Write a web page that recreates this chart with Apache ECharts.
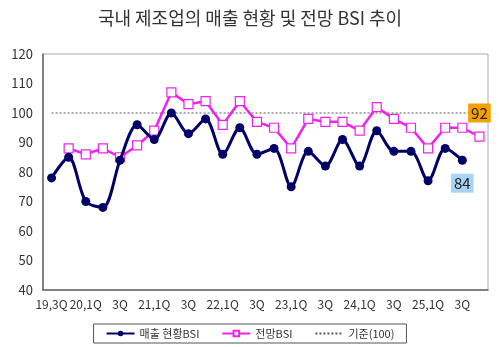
<!DOCTYPE html>
<html><head><meta charset="utf-8">
<script src="https://cdn.jsdelivr.net/npm/echarts@6/dist/echarts.min.js"></script>
<style>html,body{margin:0;padding:0;background:#fff}#c{width:500px;height:347px}</style>
</head><body><div id="c"></div>
<script>
const categories = ["19,3Q","4Q","20,1Q","2Q","3Q","4Q","21,1Q","2Q","3Q","4Q","22,1Q","2Q","3Q","4Q","23,1Q","2Q","3Q","4Q","24,1Q","2Q","3Q","4Q","25,1Q","2Q","3Q","4Q"];
const salesBSI = [78,85,70,68,84,96,91,100,93,98,86,95,86,88,75,87,82,91,82,94,87,87,77,88,84,null];
const outlookBSI = [null,88,86,88,85,89,94,107,103,104,96,104,97,95,88,98,97,97,94,102,98,95,88,95,95,92];
const baseline = categories.map(() => 100);
const names = ["매출 현황BSI","전망BSI","기준(100)"];
const yTicks = {min:40, max:120, interval:10};

const font = '"Noto Sans CJK KR", "Noto Sans", sans-serif';
function lastLabelled(arr, idx, opts) {
  return arr.map((v, i) => i === idx ? {value:v, label:Object.assign({show:true, formatter:'{c}'}, opts)} : v);
}
const chart = echarts.init(document.getElementById('c'));
chart.setOption({
  animation:false,
  title:{text:"국내 제조업의 매출 현황 및 전망 BSI 추이", left:'center', top:4,
    textStyle:{fontFamily:font, fontSize:18, fontWeight:'normal', color:'#333'}},
  grid:{left:43, right:12, top:54, bottom:57, show:true, borderColor:'#aaa', borderWidth:1},
  legend:{bottom:4, left:'center', itemWidth:28, itemHeight:7, itemGap:22,
    data:[names[0], names[1], {name:names[2], itemStyle:{color:'rgba(0,0,0,0)', borderWidth:0}}],
    borderColor:'#555', borderWidth:1, padding:[4,12], borderRadius:0,
    textStyle:{fontFamily:font, fontSize:11, color:'#333'}},
  xAxis:{type:'category', data:categories, boundaryGap:true,
    axisLine:{lineStyle:{color:'#666', width:1.5}},
    axisTick:{inside:true, length:4, lineStyle:{color:'#666'}},
    axisLabel:{interval:1, fontFamily:font, fontSize:12, color:'#333', margin:8}},
  yAxis:{type:'value', min:yTicks.min, max:yTicks.max, interval:yTicks.interval,
    splitLine:{show:false},
    axisLine:{show:true, lineStyle:{color:'#666', width:1.5}},
    axisTick:{show:false},
    axisLabel:{fontFamily:font, fontSize:13, color:'#333', margin:10}},
  series:[
    {name:names[2], type:'line', data:baseline, symbol:'none', silent:true,
      lineStyle:{color:'#555', width:1, type:[2,2]}, itemStyle:{color:'#555'}, z:1},
    {name:names[1], type:'line', symbol:'rect', symbolSize:9,
      data:lastLabelled(outlookBSI, outlookBSI.length-1,
        {position:'top', distance:9, backgroundColor:'#f5a000', color:'#222', fontSize:15, fontFamily:font, padding:[2,3]}),
      lineStyle:{color:'#ee22ee', width:2.5}, itemStyle:{color:'#fff', borderColor:'#ee22ee', borderWidth:1.2},
      z:2},
    {name:names[0], type:'line', smooth:0.3, symbol:'circle', symbolSize:9,
      data:lastLabelled(salesBSI, 24,
        {position:'bottom', distance:9, backgroundColor:'#a8d4f5', color:'#222', fontSize:15, fontFamily:font, padding:[2,3]}),
      lineStyle:{color:'#000066', width:3}, itemStyle:{color:'#000066'}, z:3}
  ]
});
</script></body></html>
